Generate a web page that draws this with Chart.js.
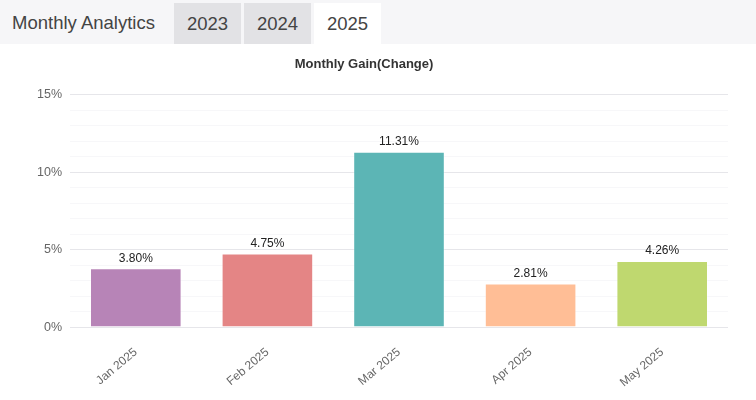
<!DOCTYPE html>
<html>
<head>
<meta charset="utf-8">
<script src="https://cdn.jsdelivr.net/npm/chart.js@4"></script>
<style>
  body { margin: 0; background: #fff; font-family: "Liberation Sans", Arial, sans-serif; }
  .header { height: 44px; background: #f6f6f8; position: relative; }
  .header .title { position: absolute; left: 12px; top: 12px; font-size: 18.5px; color: #444; }
  .tab { position: absolute; top: 3px; height: 41px; width: 67px; line-height: 42px; text-align: center; font-size: 18.5px; color: #444; background: #e2e2e5; }
  .tab.active { background: #fff; }
  .chart-container { position: relative; width: 756px; height: 356px; }
</style>
</head>
<body>
<div class="header">
  <span class="title">Monthly Analytics</span>
  <div class="tab" style="left:174px">2023</div>
  <div class="tab" style="left:244px">2024</div>
  <div class="tab active" style="left:314px">2025</div>
</div>
<div class="chart-container"><canvas id="gainChart"></canvas></div>
<script>
// chart data
const months = ['Jan 2025', 'Feb 2025', 'Mar 2025', 'Apr 2025', 'May 2025'];
const gains = [3.80, 4.75, 11.31, 2.81, 4.26];
const barColors = ['#b784b7', '#e48585', '#5cb5b5', '#ffbe96', '#bfd86f'];
const yTickLabels = { 0: '0%', 5: '5%', 10: '10%', 15: '15%' };

// draw value above each bar (no datalabels plugin offline)
const valueLabels = {
  id: 'valueLabels',
  afterDatasetsDraw(chart) {
    const ctx = chart.ctx;
    const meta = chart.getDatasetMeta(0);
    ctx.save();
    ctx.font = '12px "Liberation Sans", Arial, sans-serif';
    ctx.fillStyle = '#222';
    ctx.textAlign = 'center';
    ctx.textBaseline = 'bottom';
    meta.data.forEach((bar, i) => {
      ctx.fillText(gains[i].toFixed(2) + '%', bar.x, bar.y - 4);
    });
    ctx.restore();
  }
};

new Chart(document.getElementById('gainChart'), {
  type: 'bar',
  data: {
    labels: months,
    datasets: [{
      label: 'Monthly Gain',
      data: gains,
      backgroundColor: barColors,
      borderColor: 'rgba(255,255,255,0.35)',
      borderWidth: 1,
      barPercentage: 0.87,
      categoryPercentage: 0.8
    }]
  },
  plugins: [valueLabels],
  options: {
    responsive: true,
    maintainAspectRatio: false,
    animation: false,
    layout: { padding: { left: 0, right: 28, top: 0, bottom: 0 } },
    plugins: {
      legend: { display: false },
      tooltip: { enabled: false },
      title: {
        display: true,
        text: 'Monthly Gain(Change)',
        color: '#333',
        font: { family: '"Liberation Sans", Arial, sans-serif', size: 13, weight: 'bold' },
        padding: { top: 13, bottom: 22 }
      }
    },
    scales: {
      x: {
        grid: { display: false },
        border: { display: false },
        ticks: {
          color: '#666',
          maxRotation: 40,
          minRotation: 40,
          padding: 10,
          font: { family: '"Liberation Sans", Arial, sans-serif', size: 12 }
        }
      },
      y: {
        min: 0,
        max: 15,
        afterFit(scale) { scale.width = 70; },
        border: { display: false },
        grid: {
          drawTicks: false,
          color: c => (c.tick && c.tick.value % 5 === 0) ? '#e6e6ea' : '#f7f7f9'
        },
        ticks: {
          stepSize: 1,
          autoSkip: false,
          color: '#666',
          padding: 8,
          font: { family: '"Liberation Sans", Arial, sans-serif', size: 12.5 },
          callback: v => yTickLabels[v] || ''
        }
      }
    }
  }
});
</script>
</body>
</html>
